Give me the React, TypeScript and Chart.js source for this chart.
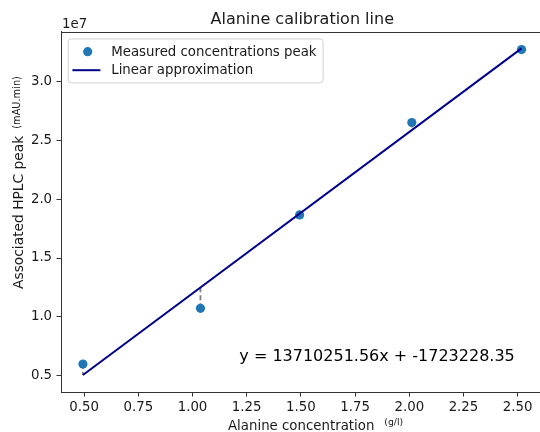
import React, { useEffect, useRef } from 'react';
import { Chart, registerables } from 'chart.js';

Chart.register(...registerables);

// Measured data (g/l vs. peak area)
const concentrations = [0.4945, 1.0366, 1.494, 2.0117, 2.518];
const peaks = [6.0e6, 1.073e7, 1.866e7, 2.651e7, 3.27e7];
// Linear approximation evaluated at the measured concentrations
const fitAtPoints = [5.06e6, 1.249e7, 1.876e7, 2.586e7, 3.28e7];
// Linear approximation end points
const fitLineX = [0.4945, 2.518];
const fitLineY = [5.06e6, 3.28e7];

const xTicks = [0.5, 0.75, 1.0, 1.25, 1.5, 1.75, 2.0, 2.25, 2.5];
const xTickLabels = ['0.50', '0.75', '1.00', '1.25', '1.50', '1.75', '2.00', '2.25', '2.50'];
const yTicks = [5e6, 1e7, 1.5e7, 2e7, 2.5e7, 3e7];
const yTickLabels = ['0.5', '1.0', '1.5', '2.0', '2.5', '3.0'];

const titleText = 'Alanine calibration line';
const xLabelMain = 'Alanine concentration';
const xLabelUnit = '(g/l)';
const yLabelMain = 'Associated HPLC peak';
const yLabelUnit = '(mAU.min)';
const legendLabels = ['Measured concentrations peak', 'Linear approximation'];
const equationText = 'y = 13710251.56x + -1723228.35';
const equationPos = [1.216, 6.28e6];
const offsetText = '1e7';

const FONT = "'DejaVu Sans', sans-serif";
const POINT_COLOR = '#1f77b4';
const LINE_COLOR = '#00008b';
const AXIS_COLOR = '#333333';
const TEXT_COLOR = '#1a1a1a';

export default function App() {
  const ref = useRef<HTMLCanvasElement>(null);

  useEffect(() => {
    document.body.style.margin = '0';
    document.body.style.overflow = 'hidden';
    const canvas = ref.current;
    if (!canvas) return;

    const overlay = {
      id: 'overlay',
      afterDatasetsDraw(chart: any) {
        const { ctx, chartArea } = chart;
        const { left, top } = chartArea;
        // Legend
        ctx.save();
        ctx.font = `13.33px ${FONT}`;
        const tw = Math.max(...legendLabels.map((l) => ctx.measureText(l).width));
        const lx = left + 6.7;
        const ly = top + 6.7;
        const textX = lx + 43.5;
        const w = textX + tw + 6 - lx;
        const h = 44;
        ctx.beginPath();
        (ctx as any).roundRect(lx + 0.5, ly + 0.5, w, h, 3);
        ctx.fillStyle = 'rgba(255,255,255,0.8)';
        ctx.fill();
        ctx.strokeStyle = '#d0d0d0';
        ctx.lineWidth = 1;
        ctx.stroke();
        ctx.beginPath();
        ctx.arc(lx + 20, ly + 13.3, 4.6, 0, Math.PI * 2);
        ctx.fillStyle = POINT_COLOR;
        ctx.fill();
        ctx.beginPath();
        ctx.moveTo(lx + 4.7, ly + 31.8);
        ctx.lineTo(lx + 32.7, ly + 31.8);
        ctx.strokeStyle = LINE_COLOR;
        ctx.lineWidth = 2;
        ctx.stroke();
        ctx.fillStyle = TEXT_COLOR;
        ctx.textAlign = 'left';
        ctx.textBaseline = 'middle';
        ctx.fillText(legendLabels[0], textX, ly + 13.8);
        ctx.fillText(legendLabels[1], textX, ly + 32.2);
        ctx.restore();
      },
      afterDraw(chart: any) {
        const { ctx, chartArea, scales } = chart;
        const { left, right, top } = chartArea;
        ctx.save();
        // top spine (right spine lies outside the visible window)
        ctx.strokeStyle = AXIS_COLOR;
        ctx.lineWidth = 1;
        ctx.beginPath();
        ctx.moveTo(left, Math.round(top) + 0.5);
        ctx.lineTo(right, Math.round(top) + 0.5);
        ctx.stroke();

        ctx.fillStyle = TEXT_COLOR;
        ctx.textBaseline = 'alphabetic';
        // Title
        ctx.font = `16px ${FONT}`;
        ctx.textAlign = 'center';
        ctx.fillText(titleText, (left + right) / 2, top - 8);
        // Offset text
        ctx.font = `13.33px ${FONT}`;
        ctx.textAlign = 'left';
        ctx.fillText(offsetText, left + 1, 28.3);
        // X label
        ctx.font = `13.33px ${FONT}`;
        const xw = ctx.measureText(xLabelMain).width;
        const xStart = 228;
        ctx.fillText(xLabelMain, xStart, 429.5);
        ctx.font = `9.3px ${FONT}`;
        ctx.fillText(xLabelUnit, xStart + xw + 10, 425);
        // Y label
        ctx.save();
        ctx.translate(23, 289);
        ctx.rotate(-Math.PI / 2);
        ctx.font = `13.8px ${FONT}`;
        const yw = ctx.measureText(yLabelMain).width;
        ctx.fillText(yLabelMain, 0, 0);
        ctx.font = `9.8px ${FONT}`;
        ctx.fillText(yLabelUnit, yw + 7, -3);
        ctx.restore();
        // Equation
        ctx.font = `16px ${FONT}`;
        ctx.fillStyle = '#000';
        ctx.fillText(
          equationText,
          scales.x.getPixelForValue(equationPos[0]),
          scales.y.getPixelForValue(equationPos[1])
        );
        ctx.restore();
      },
    };

    const residualSets = concentrations.map((c, i) => ({
      type: 'scatter' as const,
      data: [
        { x: c, y: peaks[i] },
        { x: c, y: fitAtPoints[i] },
      ],
      showLine: true,
      borderColor: '#808080',
      borderWidth: 1.8,
      borderDash: [5, 3],
      pointRadius: 0,
      order: 3,
    }));

    const chart = new Chart(canvas, {
      type: 'scatter',
      data: {
        datasets: [
          {
            data: fitLineX.map((x, i) => ({ x, y: fitLineY[i] })),
            showLine: true,
            borderColor: LINE_COLOR,
            borderWidth: 2,
            pointRadius: 0,
            order: 0,
          },
          ...residualSets,
          {
            data: concentrations.map((x, i) => ({ x, y: peaks[i] })),
            backgroundColor: POINT_COLOR,
            borderColor: POINT_COLOR,
            borderWidth: 0,
            pointRadius: 4.6,
            order: 2,
          },
        ],
      },
      options: {
        animation: false,
        responsive: false,
        devicePixelRatio: 1,
        layout: { autoPadding: false, padding: { left: 0, top: 31.7, right: 6.5, bottom: 0 } },
        plugins: {
          legend: { display: false },
          tooltip: { enabled: false },
          title: { display: false },
        },
        scales: {
          x: {
            type: 'linear',
            min: 0.3933,
            max: 2.6192,
            afterBuildTicks: (s: any) => {
              s.ticks = xTicks.map((v) => ({ value: v }));
            },
            afterFit: (s: any) => {
              s.height = 40;
              s.paddingLeft = 0;
              s.paddingRight = 0;
            },
            ticks: {
              autoSkip: false,
              maxRotation: 0,
              padding: 3,
              color: TEXT_COLOR,
              font: { family: FONT, size: 13.33 },
              callback: (v: any) => xTickLabels[xTicks.indexOf(Number(v))] ?? '',
            },
            grid: { drawOnChartArea: false, tickLength: 4.5, color: AXIS_COLOR, lineWidth: 1 },
            border: { display: true, color: AXIS_COLOR, width: 1 },
          },
          y: {
            type: 'linear',
            min: 3.62e6,
            max: 3.422e7,
            afterBuildTicks: (s: any) => {
              s.ticks = yTicks.map((v) => ({ value: v }));
            },
            afterFit: (s: any) => {
              s.width = 61;
              s.paddingTop = 0;
              s.paddingBottom = 0;
            },
            ticks: {
              autoSkip: false,
              padding: 4.4,
              color: TEXT_COLOR,
              font: { family: FONT, size: 13.33 },
              callback: (v: any) => yTickLabels[yTicks.indexOf(Number(v))] ?? '',
            },
            grid: { drawOnChartArea: false, tickLength: 4.5, color: AXIS_COLOR, lineWidth: 1 },
            border: { display: true, color: AXIS_COLOR, width: 1 },
          },
        },
      },
      plugins: [overlay],
    } as any);

    return () => chart.destroy();
  }, []);

  return (
    <div
      style={{
        position: 'fixed',
        left: 0,
        top: 0,
        width: 540,
        height: 432,
        overflow: 'hidden',
        background: '#fff',
      }}
    >
      <canvas ref={ref} width={550} height={432} style={{ display: 'block', width: 550, height: 432 }} />
    </div>
  );
}
